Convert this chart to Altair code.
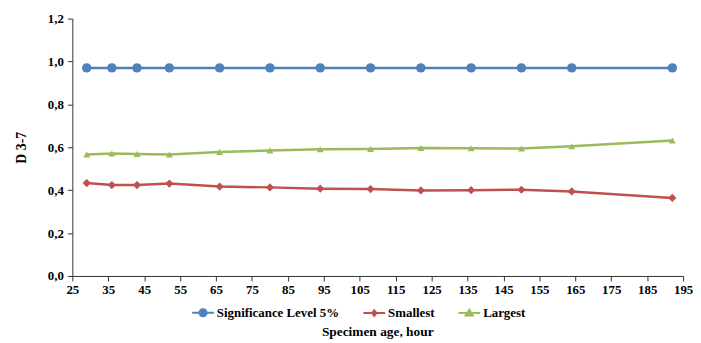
import altair as alt
import pandas as pd

hours = [29, 36, 43, 52, 66, 80, 94, 108, 122, 136, 150, 164, 192]
significance = [0.97, 0.97, 0.97, 0.97, 0.97, 0.97, 0.97, 0.97, 0.97, 0.97, 0.97, 0.97, 0.97]
smallest = [0.433, 0.424, 0.424, 0.431, 0.417, 0.413, 0.407, 0.405, 0.399, 0.400, 0.402, 0.394, 0.364]
largest = [0.566, 0.571, 0.569, 0.566, 0.578, 0.585, 0.591, 0.592, 0.597, 0.595, 0.594, 0.605, 0.632]

series_names = ["Significance Level 5%", "Smallest", "Largest"]
series_colors = ["#4F81BD", "#C0504D", "#9BBB59"]
x_ticks = [25, 35, 45, 55, 65, 75, 85, 95, 105, 115, 125, 135, 145, 155, 165, 175, 185, 195]
y_ticks = [0.0, 0.2, 0.4, 0.6, 0.8, 1.0, 1.2]

rows = []
for name, vals in zip(series_names, [significance, smallest, largest]):
    for h, v in zip(hours, vals):
        rows.append({"hour": h, "value": v, "series": name})
df = pd.DataFrame(rows)

FONT = "Liberation Serif"

x = alt.X("hour:Q", scale=alt.Scale(domain=[25, 195], nice=False, zero=False),
          axis=alt.Axis(values=x_ticks, title=None, grid=False, tickSize=5, labelFlush=False,
                        labelFont=FONT, labelFontWeight="bold", labelFontSize=13,
                        labelColor="#000", domainColor="#333", tickColor="#333",
                        labelPadding=3))
y = alt.Y("value:Q", scale=alt.Scale(domain=[0, 1.2], nice=False),
          axis=alt.Axis(values=y_ticks, title="D 3-7", grid=False, tickSize=5,
                        labelExpr="replace(format(datum.value, '.1f'), '.', ',')",
                        labelFont=FONT, labelFontWeight="bold", labelFontSize=13,
                        labelColor="#000", domainColor="#333", tickColor="#333",
                        titleFont=FONT, titleFontWeight="bold", titleFontSize=14,
                        titleColor="#000", titlePadding=19, labelPadding=4))

cscale = alt.Scale(domain=series_names, range=series_colors)

lines = alt.Chart(df).mark_line(strokeWidth=2.5).encode(
    x=x, y=y, color=alt.Color("series:N", scale=cscale, legend=None))

points = alt.Chart(df).mark_point(filled=True, opacity=1).encode(
    x=x, y=y,
    color=alt.Color("series:N", scale=cscale, legend=None),
    shape=alt.Shape("series:N", scale=alt.Scale(domain=series_names,
                    range=["circle", "diamond", "triangle-up"]), legend=None),
    size=alt.Size("series:N", scale=alt.Scale(domain=series_names, range=[90, 48, 85]), legend=None),
)

legend_paths = [
    "M-1,0H1M-0.33,0A0.33,0.33,0,1,0,0.33,0A0.33,0.33,0,1,0,-0.33,0Z",
    "M-1,0H1M0,-0.26L0.2,0L0,0.26L-0.2,0Z",
    "M-1,0H1M0,-0.3L0.33,0.22L-0.33,0.22Z",
]

leg = dict(title=None, orient="none", direction="horizontal", legendX=120, legendY=285)

legend_layer = alt.Chart(df).transform_filter("datum.hour < 0").mark_point(
    filled=True, opacity=1, strokeWidth=2, size=484).encode(
    x=x, y=y,
    color=alt.Color("series:N", scale=alt.Scale(domain=series_names, range=series_colors),
                    legend=alt.Legend(symbolSize=484, symbolStrokeWidth=2, labelOffset=2,
                                      columnPadding=20, labelFont=FONT, labelFontWeight="bold",
                                      labelFontSize=13, labelColor="#000", **leg)),
    stroke=alt.Stroke("series:N", scale=alt.Scale(domain=series_names, range=series_colors),
                      legend=alt.Legend(**leg)),
    shape=alt.Shape("series:N", scale=alt.Scale(domain=series_names, range=legend_paths),
                    legend=alt.Legend(**leg)),
)

chart = alt.layer(lines, points, legend_layer).resolve_scale(
    color="independent", shape="independent", stroke="independent", size="independent"
).properties(
    width=617, height=260,
    padding={"left": 6, "top": 3, "right": 0, "bottom": 0},
    title=alt.TitleParams("Specimen age, hour", orient="bottom", anchor="middle",
                          font=FONT, fontWeight="bold", fontSize=13.5, color="#000", offset=5),
).configure(font=FONT).configure_view(stroke=None)

chart.save("out.html", embed_options={"renderer": "svg", "actions": False})
